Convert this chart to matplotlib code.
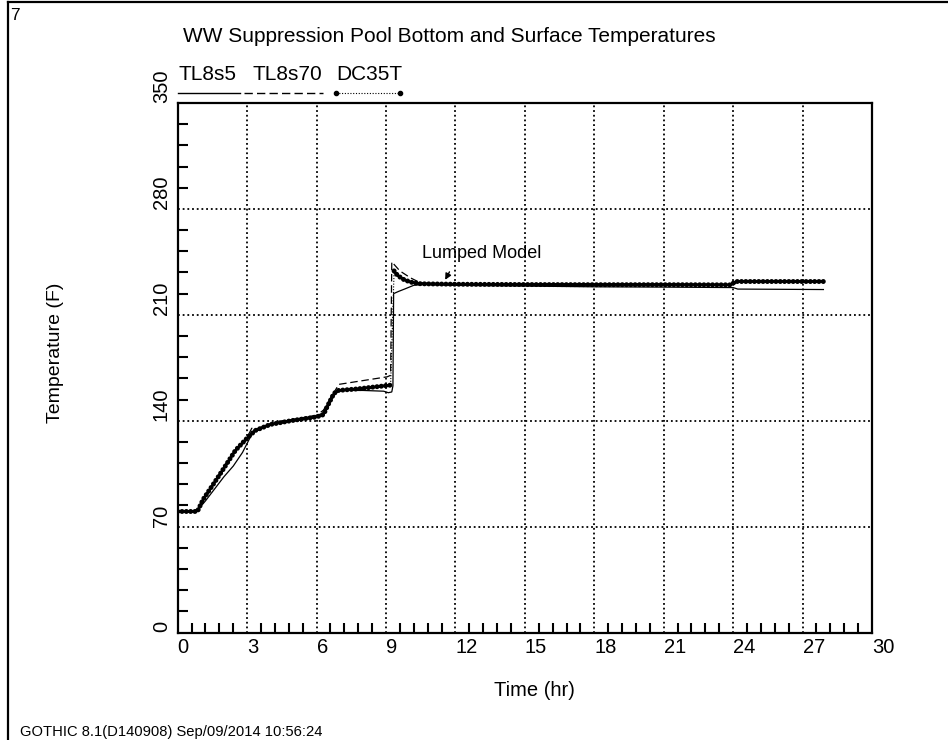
import matplotlib.pyplot as plt
import numpy as np
from matplotlib.ticker import MultipleLocator

plt.rcParams['font.family'] = ['Liberation Sans', 'DejaVu Sans']

# --- data ---
# TL8s5 (solid)
t_s5 = [0, 0.8, 1.2, 1.6, 2.0, 2.4, 2.8, 3.1, 3.3, 3.6, 4.0, 5.0, 6.0, 6.3, 6.5, 6.8, 7.0, 8.0,
        8.9, 9.1, 9.25, 9.3, 9.33, 9.55, 9.8, 10.2, 10.6, 12, 15, 18, 21, 24, 24.2, 27.9]
T_s5 = [80, 80, 87, 95, 103, 110, 119, 128, 134, 135, 137.5, 140.5, 143.5, 145, 151, 159, 160, 160,
        159.5, 158.5, 159, 163, 224, 225.5, 227, 229.5, 230, 229.5, 229, 228.5, 228.3, 228, 227, 226.7]

# TL8s70 (dashed)
t_s70 = [0, 0.85, 1.1, 1.8, 2.5, 3.0, 3.2, 3.4, 4.0, 5.0, 6.0, 6.3, 6.96, 8.0, 9.05, 9.2, 9.25,
         9.6, 10.05, 10.5, 12, 15, 18, 21, 23.9, 24.1, 27.9]
T_s70 = [80, 80, 88, 104, 120, 129, 135, 134.5, 138, 141, 143.5, 147, 164, 166.5, 169, 170, 245,
         239, 234.5, 231, 230.3, 230, 229.8, 229.8, 229.6, 231.8, 231.8]

# DC35T (dotted with markers)
t_dc = [0, 0.85, 1.1, 1.8, 2.5, 3.0, 3.35, 4.0, 4.9, 6.0, 6.3, 6.45, 6.75, 6.95, 7.75, 9.2,
        9.35, 9.5, 9.8, 10.1, 10.5, 12, 15, 18, 21, 23.9, 24.1, 27.9]
T_dc = [80, 80, 88, 104, 120.5, 128.5, 133.5, 137.5, 140, 142.5, 144, 149, 158, 160, 161, 163.5,
        239, 236, 233, 231.5, 230.5, 230.2, 230, 229.9, 229.9, 229.8, 232, 232]

x_ticks = np.arange(0, 31, 3)
y_ticks = np.arange(0, 351, 70)

W, H = 948, 740
fig = plt.figure(figsize=(W / 100, H / 100), dpi=100)

def fx(px):
    return px / W

def fy(py):
    return 1 - py / H

ax = fig.add_axes([fx(177.7), fy(632.5), fx(872) - fx(177.7), fy(103) - fy(632.5)])

ax.plot(t_s5, T_s5, color='black', lw=0.9, zorder=3)
ax.plot(t_s70, T_s70, color='black', lw=0.9, dashes=(6, 3), zorder=3)

t_dc = np.array(t_dc)
T_dc = np.array(T_dc)
ax.plot(t_dc, T_dc, color='black', lw=0.8, linestyle=(0, (1, 1.5)), zorder=4)
for seg in (t_dc <= 9.25, t_dc >= 9.3):
    ax.plot(t_dc[seg], T_dc[seg], color='black', lw=3.6, linestyle=(0, (0.01, 0.85)),
            dash_capstyle='round', zorder=4)

ax.set_xlim(0, 30)
ax.set_ylim(0, 350)
ax.set_xticks(x_ticks)
ax.set_yticks(y_ticks)
ax.xaxis.set_minor_locator(MultipleLocator(0.6))
ax.yaxis.set_minor_locator(MultipleLocator(14))
ax.tick_params(which='major', length=0, labelsize=14.5, width=1.5)
ax.tick_params(axis='x', which='major', pad=4)
ax.tick_params(axis='y', which='major', pad=5)
ax.tick_params(which='minor', direction='in', length=7, width=1.5)
ax.tick_params(top=False, right=False)
for lab in ax.get_xticklabels():
    lab.set_ha('left')
for lab in ax.get_yticklabels():
    lab.set_rotation(90)
    lab.set_va('bottom')

ax.grid(True, which='major', color='black', lw=1.3, linestyle=(0, (1, 1.6)))
for sp in ax.spines.values():
    sp.set_linewidth(1.6)

ax.text(10.56, 250.5, 'Lumped Model', fontsize=13, va='center', ha='left')
ax.annotate('', xy=(11.5, 231.5), xytext=(11.8, 240),
            arrowprops=dict(arrowstyle='-|>', color='black', lw=1, mutation_scale=9))

# texts around the plot
fig.text(fx(183), fy(36), 'WW Suppression Pool Bottom and Surface Temperatures', fontsize=15,
         ha='left', va='center')
fig.text(fx(534), fy(690), 'Time (hr)', fontsize=14.5, ha='center', va='center')
fig.text(fx(55), fy(353), 'Temperature (F)', fontsize=14, ha='center', va='center', rotation=90)
fig.text(fx(20), fy(732), 'GOTHIC 8.1(D140908) Sep/09/2014 10:56:24', fontsize=10.6,
         ha='left', va='center')
fig.text(fx(10), fy(16), '7', fontsize=12.5, ha='left', va='center')

# legend labels and samples, frame lines
ov = fig.add_axes([0, 0, 1, 1])
ov.set_xlim(0, W)
ov.set_ylim(H, 0)
ov.axis('off')
ov.plot([8, 8], [2, H], color='black', lw=1.6)
ov.plot([8, W], [2, 2], color='black', lw=1.6)
ov.text(179, 75, 'TL8s5', fontsize=15, ha='left', va='center')
ov.text(253, 75, 'TL8s70', fontsize=15, ha='left', va='center')
ov.text(336, 75, 'DC35T', fontsize=15, ha='left', va='center')
ov.plot([178, 240], [93, 93], color='black', lw=1)
ov.plot([244, 323], [93, 93], color='black', lw=1, dashes=(6, 3))
ov.plot([336, 400], [93, 93], color='black', lw=0.8, linestyle=(0, (1, 1.5)))
ov.plot([336, 400], [93, 93], 'o', color='black', ms=3)

fig.savefig('out.png', dpi=100)
